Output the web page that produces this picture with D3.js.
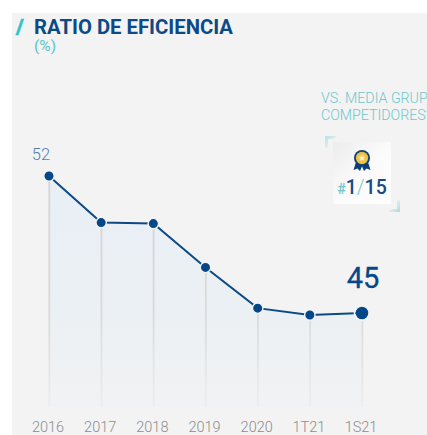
<!DOCTYPE html>
<html><head><meta charset="utf-8">
<script src="https://cdnjs.cloudflare.com/ajax/libs/d3/7.8.5/d3.min.js"></script>
<style>html,body{margin:0;padding:0;background:#fff}svg{display:block}text{font-family:Roboto,sans-serif}</style>
</head><body><div id="c"></div>
<script>
const categories=["2016","2017","2018","2019","2020","1T21","1S21"];
const values=[52,49.62,49.57,47.33,45.25,44.9,45];
const titleText="RATIO DE EFICIENCIA";
const unitText="(%)";
const noteLines=["VS. MEDIA GRUPO","COMPETIDORES*"];

const svg=d3.select("#c").append("svg").attr("width",427).attr("height",435);
const defs=svg.append("defs");
const ag=defs.append("linearGradient").attr("id","ag").attr("x1",0).attr("x2",0).attr("y1",0).attr("y2",1);
ag.append("stop").attr("offset",0).attr("stop-color","#e8eff5");
ag.append("stop").attr("offset",.55).attr("stop-color","#ebf0f4");
ag.append("stop").attr("offset",1).attr("stop-color","#f1f2f3");
const lg=defs.append("linearGradient").attr("id","lg").attr("gradientUnits","userSpaceOnUse").attr("x1",0).attr("x2",0).attr("y1",176).attr("y2",407);
lg.append("stop").attr("offset",0).attr("stop-color","#d4d4d4");
lg.append("stop").attr("offset",.6).attr("stop-color","#dadada");
lg.append("stop").attr("offset",1).attr("stop-color","#ededed");
const c1=defs.append("linearGradient").attr("id","c1").attr("x1",0).attr("x2",1).attr("y1",0).attr("y2",1);
c1.append("stop").attr("offset",0).attr("stop-color","#b5e0e0");
c1.append("stop").attr("offset",.7).attr("stop-color","#f0f3f3");
const c2=defs.append("linearGradient").attr("id","c2").attr("x1",1).attr("x2",0).attr("y1",1).attr("y2",0);
c2.append("stop").attr("offset",0).attr("stop-color","#a9dcdc");
c2.append("stop").attr("offset",.7).attr("stop-color","#f0f3f3");
const cardG=defs.append("linearGradient").attr("id","cardG").attr("x1",0).attr("x2",1).attr("y1",0).attr("y2",1);
cardG.append("stop").attr("offset",0).attr("stop-color","#ececec");
cardG.append("stop").attr("offset",.5).attr("stop-color","#fbfbfb");
cardG.append("stop").attr("offset",1).attr("stop-color","#ffffff");
const medal=defs.append("radialGradient").attr("id","medal");
medal.append("stop").attr("offset",0).attr("stop-color","#f6dc7a");
medal.append("stop").attr("offset",1).attr("stop-color","#e9b93c");
defs.append("clipPath").attr("id","panel").append("rect").attr("x",12).attr("y",13).attr("width",415).attr("height",422);

svg.append("rect").attr("x",12).attr("y",13).attr("width",415).attr("height",422).attr("fill","#f3f3f3");

const x=d3.scalePoint().domain(categories).range([49,362]);
const y=d3.scaleLinear().domain([40.2,52]).range([407,176]);
const base=y.domain()[0];

const area=d3.area().x((d,i)=>x(categories[i])).y0(y(base)).y1(d=>y(d));
svg.append("path").datum(values).attr("d",area).attr("fill","url(#ag)");

svg.selectAll("line.drop").data(values).join("line").attr("class","drop")
 .attr("x1",(d,i)=>x(categories[i])+.3).attr("x2",(d,i)=>x(categories[i])+.3001)
 .attr("y1",d=>y(d)).attr("y2",y(base)).attr("stroke","url(#lg)").attr("stroke-width",1.8);

const line=d3.line().x((d,i)=>x(categories[i])).y(d=>y(d));
svg.append("path").datum(values).attr("d",line).attr("fill","none").attr("stroke","#0b4a85").attr("stroke-width",2);

svg.selectAll("circle.dot").data(values).join("circle").attr("class","dot")
 .attr("cx",(d,i)=>x(categories[i])).attr("cy",d=>y(d))
 .attr("r",(d,i)=>i===values.length-1?6.3:5.2)
 .attr("fill","#03478a").attr("stroke","#f3f3f3").attr("stroke-width",(d,i)=>i===values.length-1?0:1.4);
svg.append("circle").attr("cx",x(categories[6])).attr("cy",y(values[6])).attr("r",7.6).attr("fill","none").attr("stroke","#f3f3f3").attr("stroke-width",1.6);

// x axis
const axis=d3.axisBottom(x).tickSize(0).tickPadding(0);
const ax=svg.append("g").attr("transform","translate(0,431.5)").call(axis);
ax.select(".domain").remove();
ax.selectAll("text").attr("fill","#8c8c8c").attr("font-size",14.5).attr("font-weight",300).attr("font-family","Roboto,sans-serif").attr("dy",0).attr("y",0);
ax.selectAll(".tick").attr("transform",(d,i)=>`translate(${x(d)-1},0)`);

// value labels
svg.append("text").attr("x",x(categories[0])-8).attr("y",y(values[0])-16).attr("text-anchor","middle").attr("fill","#4f7fb0").attr("font-size",16.5).attr("font-weight",300).text(values[0]);
svg.append("text").attr("x",x(categories[6])+1).attr("y",288).attr("text-anchor","middle").attr("fill","#06468a").attr("font-size",29).attr("font-weight",400).attr("stroke","#06468a").attr("stroke-width",.3).text(values[6]);

// title
svg.append("text").attr("x",16).attr("y",34).attr("fill","#2fc4cc").attr("font-size",21).attr("font-weight",700).attr("stroke","#2fc4cc").attr("stroke-width",.7).text("/");
svg.append("text").attr("x",34).attr("y",33.5).attr("fill","#0b4a85").attr("font-size",20.3).attr("font-weight",700).text(titleText);
svg.append("text").attr("x",34).attr("y",51).attr("fill","#5cc3c9").attr("font-size",15.5).attr("font-weight",400).text(unitText);

// note
const ng=svg.append("g").attr("clip-path","url(#panel)");
noteLines.forEach((t,i)=>ng.append("text").attr("x",321).attr("y",103+i*17).attr("fill","#6cc8cc").attr("font-size",14.2).attr("font-weight",300).text(t));

// badge
svg.append("rect").attr("x",333).attr("y",142).attr("width",58).attr("height",62).attr("fill","url(#cardG)");
svg.append("path").attr("d","M325,136H337L333,139H328V149L325,147Z").attr("fill","url(#c1)");
svg.append("path").attr("d","M400,212H388L392,209H397V199L400,201Z").attr("fill","url(#c2)");
const m=svg.append("g").attr("transform","translate(362,158)");
m.append("path").attr("d","M-6,4L-8.5,12L-4.5,10.5L-2,13L1,6Z").attr("fill","#0b3f78");
m.append("path").attr("d","M6,4L8.5,12L4.5,10.5L2,13L-1,6Z").attr("fill","#0b3f78");
m.append("circle").attr("r",8).attr("fill","#103f74");
m.append("circle").attr("r",6.2).attr("fill","url(#medal)");
m.append("path").attr("d",d3.symbol().type(d3.symbolStar).size(12)()).attr("fill","#fff6d6");
const badge=svg.append("text").attr("x",362).attr("y",194).attr("text-anchor","middle").attr("font-size",19.5).attr("font-weight",500);
badge.append("tspan").attr("fill","#6fc6cc").attr("font-size",14).attr("font-weight",500).text("#");
badge.append("tspan").attr("fill","#174b85").text("1");
badge.append("tspan").attr("fill","#6fc6cc").attr("font-weight",300).text("/");
badge.append("tspan").attr("fill","#174b85").text("15");
</script></body></html>
